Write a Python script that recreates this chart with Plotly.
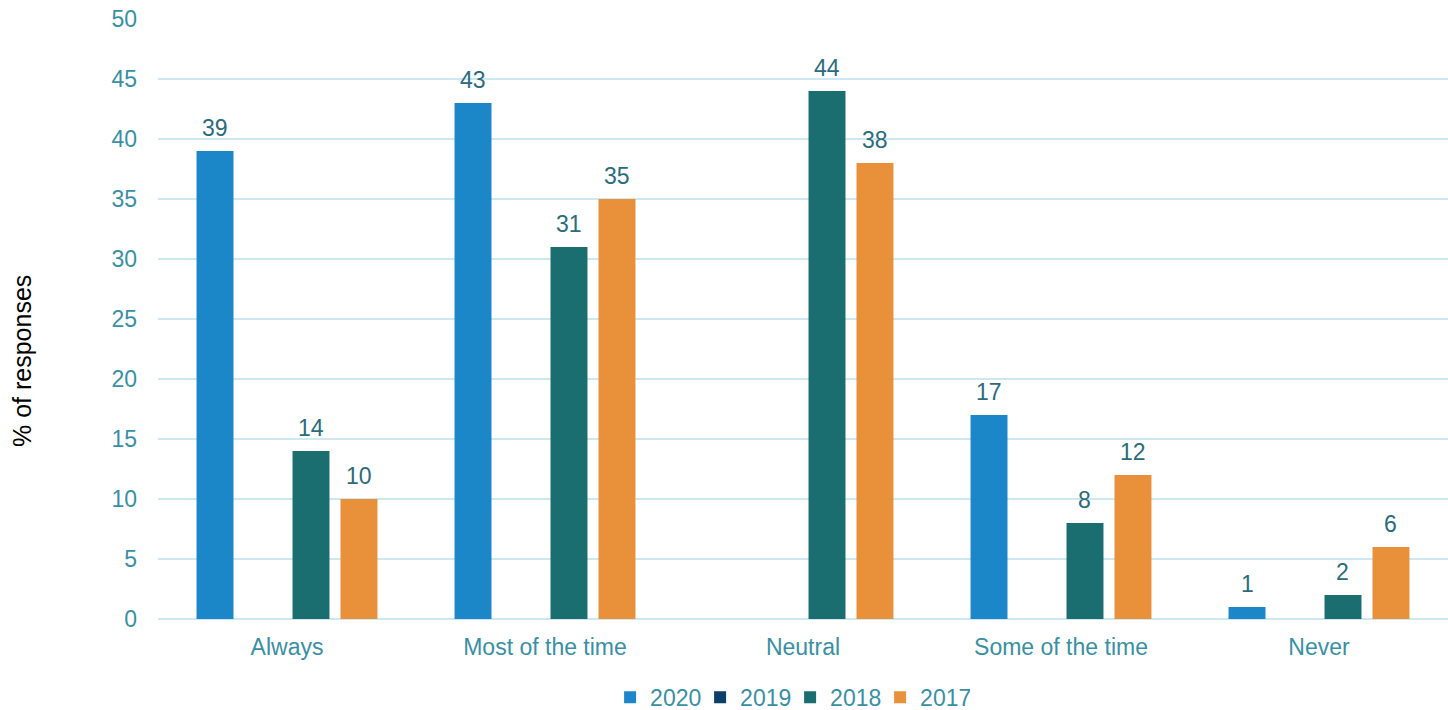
import plotly.graph_objects as go

categories = ["Always", "Most of the time", "Neutral", "Some of the time", "Never"]
years = ["2020", "2019", "2018", "2017"]
values_2020 = [39, 43, None, 17, 1]
values_2019 = [None, None, None, None, None]
values_2018 = [14, 31, 44, 8, 2]
values_2017 = [10, 35, 38, 12, 6]
y_ticks = [0, 5, 10, 15, 20, 25, 30, 35, 40, 45, 50]

series = [values_2020, values_2019, values_2018, values_2017]
colors = ["#1B87C9", "#0D3F6B", "#1B6E70", "#E8903A"]

axis_color = "#3A8FA3"
label_color = "#2B6B7B"
grid_color = "#CDE8F0"
font_family = "Liberation Sans, Arial, sans-serif"
FS = 23

W, H = 1448, 710
plot_left, plot_right, plot_top, plot_bottom = 158, 1448, 19, 619
n_cat = len(categories)
bargap = 0.256
cat_px = (plot_right - plot_left) / n_cat
slot_px = cat_px * (1 - bargap) / len(series)

fig = go.Figure()
for i, (name, vals, col) in enumerate(zip(years, series, colors)):
    fig.add_trace(go.Bar(
        name=name,
        x=categories,
        y=vals,
        marker=dict(color=col, line=dict(width=0)),
    ))
    # value labels above each bar
    shift = (i - (len(series) - 1) / 2) * slot_px
    for cat, v in zip(categories, vals):
        if v is None:
            continue
        fig.add_annotation(
            x=cat, y=v, text=str(v), showarrow=False,
            xshift=shift, yshift=8, yanchor="bottom",
            font=dict(color=label_color, size=FS, family=font_family),
        )

# vertical axis title, placed in paper coordinates
fig.add_annotation(
    xref="paper", yref="paper",
    x=(22 - plot_left) / (plot_right - plot_left),
    y=(plot_bottom - 361) / (plot_bottom - plot_top),
    text="% of responses", textangle=-90, showarrow=False,
    xanchor="center", yanchor="middle",
    font=dict(size=25, color="#000000", family=font_family),
)

fig.update_layout(
    width=W,
    height=H,
    margin=dict(l=plot_left, r=W - plot_right, t=plot_top, b=H - plot_bottom, autoexpand=False),
    paper_bgcolor="white",
    plot_bgcolor="white",
    barmode="group",
    bargap=bargap,
    bargroupgap=0.23,
    font=dict(family=font_family, color=axis_color, size=FS),
    showlegend=True,
    legend=dict(
        orientation="h",
        x=0.49,
        xanchor="center",
        y=0.018,
        yref="container",
        yanchor="middle",
        font=dict(size=FS, color=axis_color),
        itemwidth=30,
        entrywidth=45,
        traceorder="normal",
    ),
    xaxis=dict(
        showgrid=False,
        showline=False,
        ticks="",
        ticklabelstandoff=12,
        tickfont=dict(size=FS, color=axis_color),
    ),
    yaxis=dict(
        range=[0, 50],
        tickvals=y_ticks,
        showgrid=True,
        gridcolor=grid_color,
        gridwidth=2,
        zeroline=True,
        zerolinecolor=grid_color,
        zerolinewidth=2,
        ticks="",
        ticklabelstandoff=20,
        tickfont=dict(size=FS, color=axis_color),
    ),
)

fig.write_html("out.html")
